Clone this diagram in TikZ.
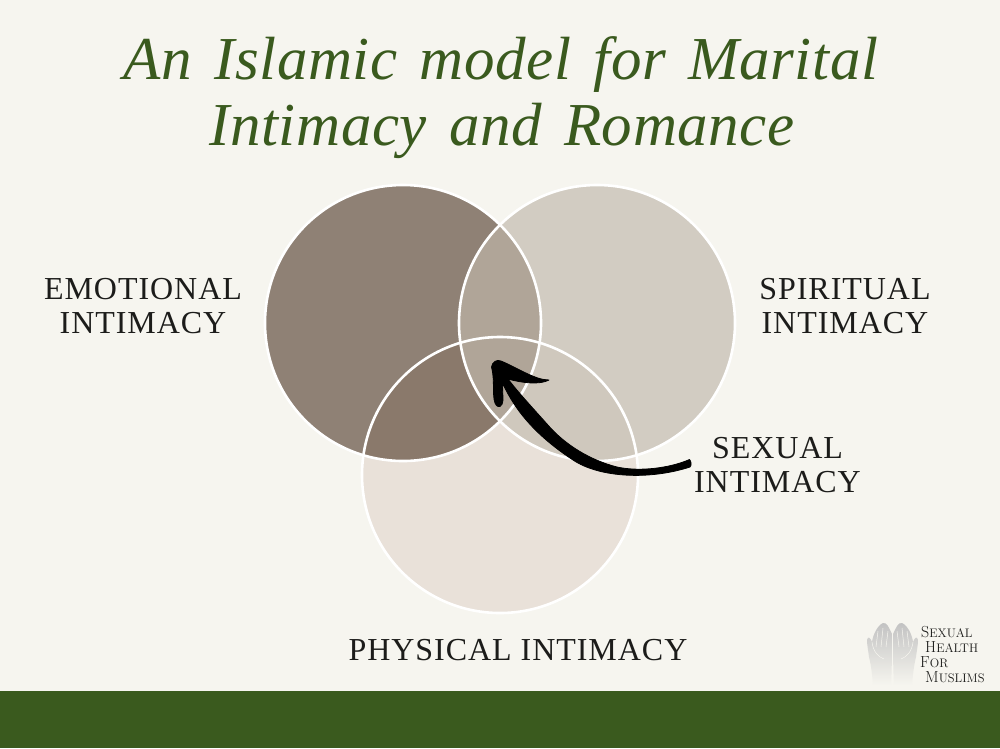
\documentclass[tikz,border=0pt]{standalone}
\usepackage{fontspec}
\setmainfont{Liberation Serif}
\newfontfamily\titlefont[LetterSpace=1,WordSpace=1.4]{Liberation Serif}
\newfontfamily\labelfont[LetterSpace=3]{Liberation Serif}
\newfontfamily\logofont{Latin Modern Roman}
\definecolor{xpage}{HTML}{F6F5EF}
\definecolor{xgreen}{HTML}{3A5A1E}
\definecolor{xemotional}{HTML}{8F8175}
\definecolor{xspiritual}{HTML}{D2CCC2}
\definecolor{xphysical}{HTML}{E9E1D9}
\definecolor{xtop}{HTML}{B0A598}
\definecolor{xlow}{HTML}{8A796B}
\definecolor{xright}{HTML}{CFC8BD}
\definecolor{xink}{HTML}{1C1C1A}
\newcommand\logoword[2]{{\fontsize{16}{15}\selectfont #1}{\fontsize{12.4}{15}\selectfont #2}}
\tikzset{
	title/.style = {text=xgreen, font=\fontsize{61}{66}\selectfont\titlefont\itshape, anchor=center},
	label/.style = {text=xink, font=\fontsize{32}{33.5}\selectfont\labelfont, align=center, anchor=center},
	ring/.style = {draw=white, line width=2.6pt},
	logo/.style = {text=xink, anchor=west, inner sep=0pt, font=\logofont},
	hand/.style = {top color=black!24, bottom color=xpage, draw=none},
}
\begin{document}
\begin{tikzpicture}[x=1pt, y=-1pt]
	\useasboundingbox (0,0) rectangle (1000,748);
	\fill[xpage] (0,0) rectangle (1000,748);
	\fill[xgreen] (0,691) rectangle (1000,748);
	% circles
	\coordinate (e) at (403,323);
	\coordinate (s) at (597,323);
	\coordinate (p) at (500,475);
	\fill[xphysical] (p) circle (138);
	\fill[xspiritual] (s) circle (138);
	\fill[xemotional] (e) circle (138);
	\begin{scope}
		\clip (e) circle (138);
		\fill[xlow] (p) circle (138);
	\end{scope}
	\begin{scope}
		\clip (s) circle (138);
		\fill[xright] (p) circle (138);
		\clip (e) circle (138);
		\fill[xtop] (p) circle (138);
		\fill[xtop] (s) circle (138);
	\end{scope}
	\draw[ring] (e) circle (138);
	\draw[ring] (s) circle (138);
	\draw[ring] (p) circle (138);
	% texts
	\node[title] (heading1) at (501,65) {An Islamic model for Marital};
	\node[title] (heading2) at (502,131) {Intimacy and Romance};
	\node[label] (emotional) at (143,306) {EMOTIONAL\\INTIMACY};
	\node[label] (spiritual) at (845,306) {SPIRITUAL\\INTIMACY};
	\node[label] (sexual) at (777.5,465) {SEXUAL\\INTIMACY};
	\node[label] (physical) at (518,650) {PHYSICAL INTIMACY};
	% arrow
	\filldraw[black, line width=.8pt, line join=round] (689.5,459.5) .. controls (670,468) and (640,472) .. (617,467)
		.. controls (590,460) and (565,445) .. (547,424)
		.. controls (530,405) and (518,392) .. (508,379)
		.. controls (522,383) and (540,385) .. (549,380)
		.. controls (535,380) and (518,368) .. (501,361)
		.. controls (497,359) and (492,362) .. (491.5,367)
		.. controls (495,380) and (492,395) .. (495,403)
		.. controls (498,410) and (503,406) .. (503,400)
		.. controls (503,393) and (502,388) .. (503,384)
		.. controls (515,410) and (535,435) .. (573,460)
		.. controls (600,478) and (650,480) .. (690,467)
		.. controls (692,465) and (691,461) .. (689.5,459.5) -- cycle;
	% logo
	\foreach \side/\flip in {892/1, 893/-1}{
		\begin{scope}[shift={(\side,623)}, xscale=\flip]
			\path[hand] (-1,62) -- (-19,62) .. controls (-20,50) and (-21,42) .. (-23,34)
				.. controls (-24,26) and (-25,22) .. (-25,17)
				.. controls (-24,13) and (-22,14) .. (-20,19)
				.. controls (-19,11) and (-14,2) .. (-9,0)
				.. controls (-5,-1) and (-3,5) .. (0,11)
				.. controls (0,25) and (0,45) .. (-1,62) -- cycle;
			\draw[xpage, line width=.5pt] (-14,8) -- (-16,24);
			\draw[xpage, line width=.5pt] (-9,5) -- (-11,24);
			\draw[xpage, line width=.5pt] (-4,8) -- (-6,24);
			\draw[xpage, line width=.5pt] (-20,19) .. controls (-19,28) and (-14,34) .. (-8,36);
		\end{scope}
	}
	\node[logo] (logo1) at (921,632) {\logoword{S}{EXUAL}};
	\node[logo] (logo2) at (925,647) {\logoword{H}{EALTH}};
	\node[logo] (logo3) at (920,662) {\logoword{F}{OR}};
	\node[logo] (logo4) at (925,677) {\logoword{M}{USLIMS}};
\end{tikzpicture}
\end{document}
